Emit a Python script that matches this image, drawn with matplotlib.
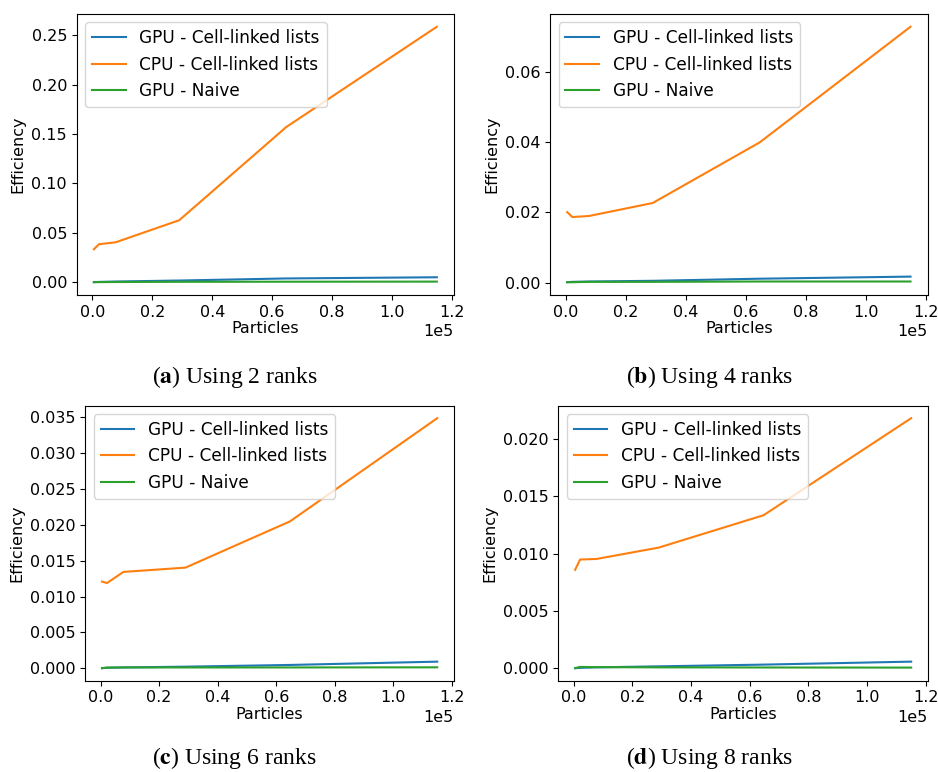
import numpy as np
import matplotlib
matplotlib.use("Agg")
import matplotlib.pyplot as plt

plt.rcParams['mathtext.fontset'] = 'stix'

# particle counts (same for all runs)
particles = [500, 2200, 7800, 29000, 64700, 115000]

ranks = [2, 4, 6, 8]
letters = ["a", "b", "c", "d"]

# efficiency per number of ranks
gpu_cell_2 = [0.0002, 0.0004, 0.0008, 0.0018, 0.0039, 0.0051]
cpu_cell_2 = [0.0334, 0.0385, 0.0405, 0.0628, 0.1570, 0.2585]
gpu_naive_2 = [0.0001, 0.0002, 0.0003, 0.0005, 0.0006, 0.0007]

gpu_cell_4 = [0.0001, 0.0002, 0.0003, 0.0005, 0.0011, 0.0017]
cpu_cell_4 = [0.0201, 0.0187, 0.0190, 0.0227, 0.0400, 0.0730]
gpu_naive_4 = [0.0001, 0.0001, 0.0002, 0.0002, 0.0003, 0.0003]

gpu_cell_6 = [0.00002, 0.00008, 0.00012, 0.00023, 0.00047, 0.00093]
cpu_cell_6 = [0.0121, 0.0119, 0.01345, 0.01405, 0.0205, 0.0349]
gpu_naive_6 = [0.00002, 0.00010, 0.00012, 0.00012, 0.00012, 0.00014]

gpu_cell_8 = [0.00001, 0.00004, 0.00008, 0.00017, 0.00032, 0.00058]
cpu_cell_8 = [0.00858, 0.00948, 0.00953, 0.01052, 0.01334, 0.0218]
gpu_naive_8 = [0.00001, 0.00012, 0.00010, 0.00008, 0.00007, 0.00006]

gpu_cell = [gpu_cell_2, gpu_cell_4, gpu_cell_6, gpu_cell_8]
cpu_cell = [cpu_cell_2, cpu_cell_4, cpu_cell_6, cpu_cell_8]
gpu_naive = [gpu_naive_2, gpu_naive_4, gpu_naive_6, gpu_naive_8]

fig = plt.figure(figsize=(9.38, 7.72), dpi=100)

# axes boxes [left, bottom, width, height]
boxes = [
    [0.0818, 0.6179, 0.4022, 0.3640],
    [0.5864, 0.6179, 0.4026, 0.3640],
    [0.0909, 0.1183, 0.3931, 0.3562],
    [0.5952, 0.1183, 0.3941, 0.3562],
]
caption_pos = [(0.25, 0.5117), (0.757, 0.5117), (0.25, 0.0175), (0.757, 0.0175)]

for i in range(4):
    ax = fig.add_axes(boxes[i])
    ax.plot(particles, gpu_cell[i], label="GPU - Cell-linked lists")
    ax.plot(particles, cpu_cell[i], label="CPU - Cell-linked lists")
    ax.plot(particles, gpu_naive[i], label="GPU - Naive")
    ax.set_xticks([0, 20000, 40000, 60000, 80000, 100000, 120000])
    ax.ticklabel_format(axis='x', style='sci', scilimits=(0, 0))
    ax.tick_params(labelsize=11.5)
    ax.xaxis.get_offset_text().set_fontsize(11.5)
    ax.set_xlabel("Particles", fontsize=11.5, labelpad=1)
    ax.set_ylabel("Efficiency", fontsize=11.5)
    ax.legend(loc="upper left", fontsize=12.2)
    fig.text(caption_pos[i][0], caption_pos[i][1],
             r"($\mathbf{%s}$) Using %d ranks" % (letters[i], ranks[i]),
             ha="center", va="center", fontsize=17, family="Liberation Serif")

fig.savefig("out.png", dpi=100)
